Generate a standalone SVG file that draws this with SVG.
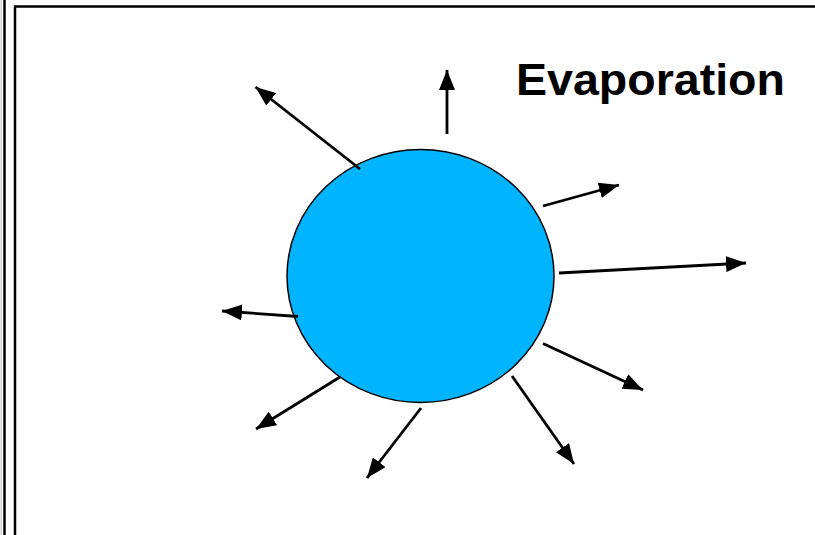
<svg xmlns="http://www.w3.org/2000/svg" width="815" height="535" viewBox="0 0 815 535">
  <style>
    .frame { stroke: #000; stroke-width: 2.5; fill: none; }
    .arrow { stroke: #000; stroke-width: 2.8; fill: none; marker-end: url(#head); }
    .title { font-family: "Liberation Sans", Arial, sans-serif; font-weight: bold; font-size: 44px; fill: #000; }
  </style>
  <defs>
    <marker id="head" markerUnits="userSpaceOnUse" markerWidth="22" markerHeight="16" refX="20" refY="8" orient="auto" viewBox="0 0 22 16">
      <path d="M0,0 L20,8 L0,16 z" fill="#000"/>
    </marker>
  </defs>
  <rect width="815" height="535" fill="#fff"/>
  <g id="frame">
    <line x1="1.2" y1="0" x2="1.2" y2="535" stroke="#bbb" stroke-width="1"/>
    <line x1="4.5" y1="0" x2="4.5" y2="535" class="frame"/>
    <line x1="15" y1="6.5" x2="15" y2="535" class="frame"/>
    <line x1="14" y1="6.5" x2="815" y2="6.5" class="frame"/>
  </g>
  <g id="droplet">
    <ellipse cx="420.5" cy="276" rx="133.5" ry="126.5" fill="#00B4FF" stroke="#000" stroke-width="1.5"/>
  </g>
  <g id="title">
    <text x="516" y="95" class="title" textLength="269" lengthAdjust="spacingAndGlyphs">Evaporation</text>
  </g>
  <g id="connectors">
    <line x1="360" y1="169" x2="255.5" y2="87" class="arrow"/>
    <line x1="447" y1="134" x2="447" y2="70" class="arrow"/>
    <line x1="543" y1="206" x2="619" y2="185" class="arrow"/>
    <line x1="559" y1="273" x2="746" y2="263" class="arrow"/>
    <line x1="543" y1="343.5" x2="643" y2="390" class="arrow"/>
    <line x1="512" y1="376" x2="574" y2="464" class="arrow"/>
    <line x1="421" y1="408" x2="367" y2="478" class="arrow"/>
    <line x1="340" y1="377" x2="256" y2="429" class="arrow"/>
    <line x1="298" y1="316.5" x2="222" y2="311" class="arrow"/>
  </g>
</svg>
